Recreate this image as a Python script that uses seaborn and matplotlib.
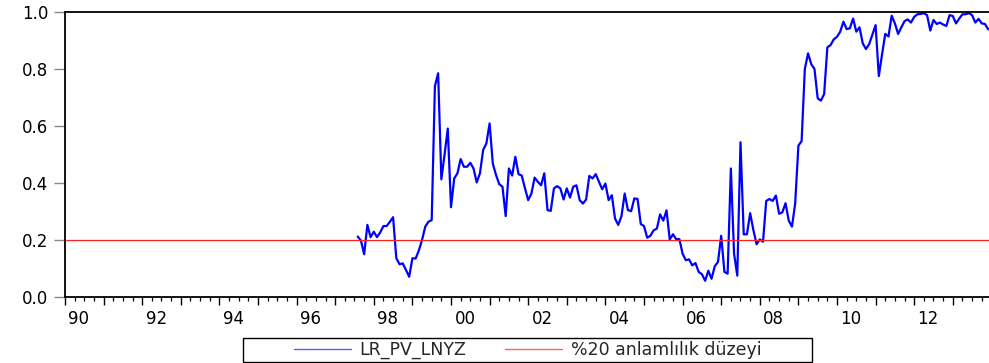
import numpy as np
import pandas as pd
import matplotlib
matplotlib.use("Agg")
import matplotlib.pyplot as plt
from matplotlib.ticker import MultipleLocator, FuncFormatter
from matplotlib.transforms import ScaledTranslation
from matplotlib.patches import Rectangle
import seaborn as sns

# ---------------- data ----------------
start_month = "1997-08"
series_name = "LR_PV_LNYZ"
threshold_name = "%20 anlamlılık düzeyi"
threshold = 0.2

lr_pv_part1 = [
    0.212, 0.198, 0.150, 0.253, 0.210, 0.229, 0.210, 0.227, 0.249, 0.249,
    0.264, 0.280, 0.136, 0.115, 0.118, 0.095, 0.071, 0.136, 0.135, 0.163,
    0.200, 0.247, 0.264, 0.270, 0.740, 0.785, 0.413, 0.500, 0.591, 0.315,
    0.416, 0.434, 0.484, 0.457, 0.457, 0.471, 0.451, 0.402, 0.434, 0.516,
    0.539, 0.609, 0.468, 0.428, 0.396, 0.387, 0.284, 0.451, 0.426, 0.492,
    0.431, 0.426, 0.381, 0.340, 0.363, 0.419, 0.404, 0.392, 0.434, 0.305,
    0.302, 0.381, 0.389, 0.381, 0.342, 0.381, 0.349, 0.387, 0.392, 0.340,
    0.328, 0.342, 0.425, 0.416, 0.431, 0.404, 0.378, 0.398, 0.340, 0.357,
    0.275, 0.253, 0.284, 0.363, 0.305, 0.301, 0.346, 0.344, 0.256, 0.249,
    0.208, 0.215, 0.234, 0.240, 0.290,
]
lr_pv_part2 = [
    0.268, 0.304, 0.202, 0.220, 0.203, 0.203, 0.152, 0.129, 0.132, 0.111,
    0.119, 0.088, 0.080, 0.057, 0.092, 0.064, 0.108, 0.123, 0.215, 0.088,
    0.082, 0.451, 0.152, 0.075, 0.543, 0.220, 0.220, 0.294, 0.235, 0.185,
    0.202, 0.194, 0.337, 0.344, 0.337, 0.356, 0.292, 0.297, 0.329, 0.268,
    0.247, 0.328, 0.531, 0.547, 0.800, 0.855, 0.817, 0.800, 0.697, 0.689,
    0.712, 0.876, 0.884, 0.904, 0.913, 0.931, 0.966, 0.940, 0.943, 0.977,
    0.931, 0.946, 0.890, 0.870, 0.887, 0.921, 0.954, 0.775, 0.851, 0.923,
    0.914, 0.987, 0.960, 0.923, 0.946, 0.968, 0.974, 0.963, 0.983, 0.992,
    0.993, 0.996, 0.989, 0.935, 0.972, 0.958, 0.963, 0.956, 0.951, 0.989,
    0.986, 0.960, 0.977, 0.992, 0.992, 0.996, 0.989, 0.963, 0.976, 0.960,
    0.958, 0.939,
]
lr_pv = lr_pv_part1 + lr_pv_part2

y_ticks = [0.0, 0.2, 0.4, 0.6, 0.8, 1.0]
x_label_years = list(range(1990, 2014, 2))

# ---------------- frame ----------------
dates = pd.date_range(start_month, periods=len(lr_pv), freq="MS")
t = dates.year + (dates.month - 1) / 12.0
df = pd.DataFrame({"t": t, "value": lr_pv})

sns.set_style("white")
plt.rcParams["font.family"] = ["DejaVu Sans"]

W, H, DPI = 989, 363, 100
fig = plt.figure(figsize=(W / DPI, H / DPI), dpi=DPI)
ax = fig.add_axes([65 / W, (H - 297) / H, (W - 65) / W, 285 / H])

sns.lineplot(data=df, x="t", y="value", ax=ax, color="#0000ff", linewidth=1.6,
             label=series_name, legend=False)
ax.axhline(threshold, color="#ff2020", linewidth=0.9, label=threshold_name)

ax.set_xlim(1990, 1990 + (W - 65) / 38.6)
ax.set_ylim(0, 1.0)
ax.set_xlabel("")
ax.set_ylabel("")

# spines
for s in ["left", "bottom", "top"]:
    ax.spines[s].set_color("black")
    ax.spines[s].set_linewidth(1.3)
ax.spines["right"].set_visible(False)

# y ticks
ax.set_yticks(y_ticks)
ax.yaxis.set_major_formatter(FuncFormatter(lambda v, p: f"{v:.1f}"))
ax.tick_params(axis="y", which="major", left=True, direction="out", length=8,
               width=1.0, color="#888888", labelsize=12, pad=4,
               labelcolor="black")

# x ticks: yearly major (labels every 2 years), quarterly minor
ax.xaxis.set_major_locator(MultipleLocator(1))
ax.xaxis.set_minor_locator(MultipleLocator(0.25))
ax.xaxis.set_major_formatter(FuncFormatter(
    lambda v, p: f"{int(round(v)) % 100:02d}" if int(round(v)) in x_label_years else ""))
ax.tick_params(axis="x", which="major", bottom=True, direction="out", length=6,
               width=1.0, color="black", labelsize=12, pad=3,
               labelcolor="black")
ax.tick_params(axis="x", which="minor", bottom=True, direction="out", length=3,
               width=0.9, color="black")
offset = ScaledTranslation(14 / DPI, 0, fig.dpi_scale_trans)
for lab in ax.get_xticklabels():
    lab.set_transform(lab.get_transform() + offset)

# legend (box drawn separately to match the reference frame size)
leg_left, leg_right, leg_top, leg_bottom = 243, 812, 338, 362
fig.add_artist(Rectangle((leg_left / W, (H - leg_bottom) / H),
                         (leg_right - leg_left) / W, (leg_bottom - leg_top) / H,
                         transform=fig.transFigure, fill=False,
                         edgecolor="black", linewidth=1.0))
handles, labels = ax.get_legend_handles_labels()
leg = fig.legend(handles, labels, loc="center",
                 bbox_to_anchor=((leg_left + leg_right) / 2 / W,
                                 (H - (leg_top + leg_bottom) / 2) / H),
                 ncol=2, frameon=False,
                 fontsize=12.5, handlelength=3.3, handletextpad=0.5,
                 columnspacing=2.2, borderpad=0.0, borderaxespad=0)
for lh in leg.get_lines():
    lh.set_linewidth(1.0)
leg.get_lines()[0].set_color("#5a5aff")
leg.get_lines()[1].set_color("#ff6060")

fig.savefig("out.png", dpi=DPI)
